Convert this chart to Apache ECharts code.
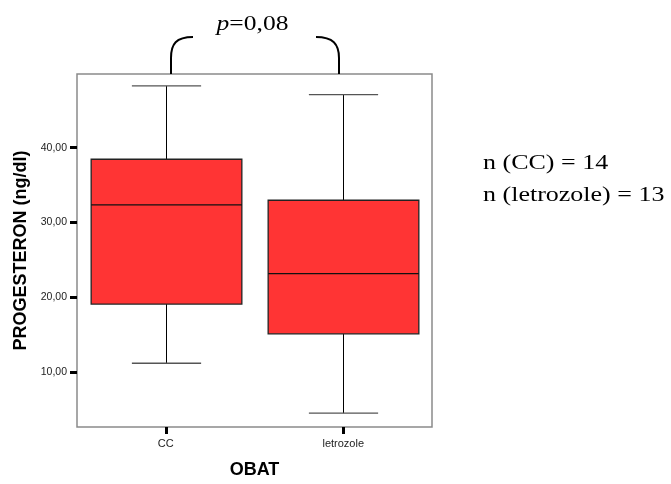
<!DOCTYPE html>
<html>
<head>
<meta charset="utf-8">
<script src="https://cdn.jsdelivr.net/npm/echarts@6/dist/echarts.min.js"></script>
<style>html,body{margin:0;padding:0;background:#fff;}#c{width:671px;height:484px;}</style>
</head>
<body>
<div id="c"></div>
<script>
const categories = ['CC', 'letrozole'];
const whiskerLow = [11.23, 4.57];
const q1 = [19.13, 15.16];
const median = [32.36, 23.19];
const q3 = [38.45, 32.98];
const whiskerHigh = [48.24, 47.09];
const yTicks = [10, 20, 30, 40];
const nLabels = ['n (CC) = 14', 'n (letrozole) = 13'];
const pLabel = '0,08';

const chart = echarts.init(document.getElementById('c'), null, {renderer: 'canvas'});
const data = categories.map((c, i) => [i, whiskerLow[i], q1[i], median[i], q3[i], whiskerHigh[i]]);

chart.setOption({
  animation: false,
  backgroundColor: '#fff',
  grid: {left: 77, right: 239, top: 74, bottom: 54, show: true, borderColor: '#8a8a8a', borderWidth: 1.5, backgroundColor: 'transparent'},
  xAxis: {
    type: 'category', data: categories, boundaryGap: true,
    axisLine: {show: false},
    axisTick: {show: true, alignWithLabel: true, length: 7, lineStyle: {color: '#000', width: 3}},
    axisLabel: {margin: 11, fontFamily: 'Liberation Sans', fontSize: 11, color: '#222'},
    name: 'OBAT', nameLocation: 'middle', nameGap: 34,
    nameTextStyle: {fontFamily: 'Liberation Sans', fontWeight: 'bold', fontSize: 18, color: '#000'}
  },
  yAxis: {
    type: 'value', min: 2.72, max: 49.83,
    splitLine: {show: false},
    axisLine: {show: false},
    axisTick: {show: true, customValues: yTicks, length: 7, lineStyle: {color: '#000', width: 3}},
    axisLabel: {customValues: yTicks, margin: 10, fontFamily: 'Liberation Sans', fontSize: 10.5, color: '#222',
      formatter: v => v.toFixed(2).replace('.', ',')},
    name: 'PROGESTERON (ng/dl)', nameLocation: 'middle', nameGap: 46, nameRotate: 90,
    nameTextStyle: {fontFamily: 'Liberation Sans', fontWeight: 'bold', fontSize: 18, color: '#000'}
  },
  series: [{
    type: 'custom',
    data: data,
    encode: {x: 0, y: [1, 2, 3, 4, 5]},
    renderItem: function (params, api) {
      const x = api.value(0);
      const lo = api.coord([x, api.value(1)]);
      const b1 = api.coord([x, api.value(2)]);
      const md = api.coord([x, api.value(3)]);
      const b3 = api.coord([x, api.value(4)]);
      const hi = api.coord([x, api.value(5)]);
      const band = api.size([1, 0])[0];
      const bw = band * 0.849, cw = band * 0.39;
      const cx = Math.round(lo[0]) + 0.5;
      const ln = (x1, y1, x2, y2, stroke, w) => ({type: 'line', shape: {x1, y1, x2, y2}, style: {stroke, lineWidth: w}});
      return {type: 'group', children: [
        ln(cx, hi[1], cx, b3[1], '#000', 1),
        ln(cx, b1[1], cx, lo[1], '#000', 1),
        ln(cx - cw / 2, hi[1], cx + cw / 2, hi[1], '#555', 1.3),
        ln(cx - cw / 2, lo[1], cx + cw / 2, lo[1], '#555', 1.3),
        {type: 'rect', shape: {x: cx - bw / 2, y: b3[1], width: bw, height: b1[1] - b3[1]}, style: {fill: '#FF3434', stroke: '#222', lineWidth: 1.3}},
        ln(cx - bw / 2, md[1], cx + bw / 2, md[1], '#111', 1.3)
      ]};
    }
  }],
  graphic: [
    {type: 'line', shape: {x1: 171, y1: 74, x2: 171, y2: 58}, style: {stroke: '#000', lineWidth: 2}},
    {type: 'bezierCurve', shape: {x1: 171, y1: 58, cpx1: 171, cpy1: 44, cpx2: 176, cpy2: 37, x2: 193, y2: 37}, style: {fill: null, stroke: '#000', lineWidth: 2}},
    {type: 'bezierCurve', shape: {x1: 316, y1: 37, cpx1: 333, cpy1: 37, cpx2: 339, cpy2: 44, x2: 339, y2: 58}, style: {fill: null, stroke: '#000', lineWidth: 2}},
    {type: 'line', shape: {x1: 339, y1: 58, x2: 339, y2: 74}, style: {stroke: '#000', lineWidth: 2}},
    {type: 'text', x: 252.5, y: 24, scaleX: 1.16,
      style: {text: '{i|p}=' + pLabel, align: 'center', verticalAlign: 'middle', fontFamily: 'Liberation Serif', fontSize: 22, fill: '#000',
        rich: {i: {fontStyle: 'italic', fontFamily: 'Liberation Serif', fontSize: 22, fill: '#000'}}}},
    {type: 'text', x: 483, y: 164, scaleX: 1.3,
      style: {text: nLabels[0], align: 'left', verticalAlign: 'middle', fontFamily: 'Liberation Serif', fontSize: 20, fill: '#000'}},
    {type: 'text', x: 483, y: 196, scaleX: 1.3,
      style: {text: nLabels[1], align: 'left', verticalAlign: 'middle', fontFamily: 'Liberation Serif', fontSize: 20, fill: '#000'}}
  ]
});
</script>
</body>
</html>
